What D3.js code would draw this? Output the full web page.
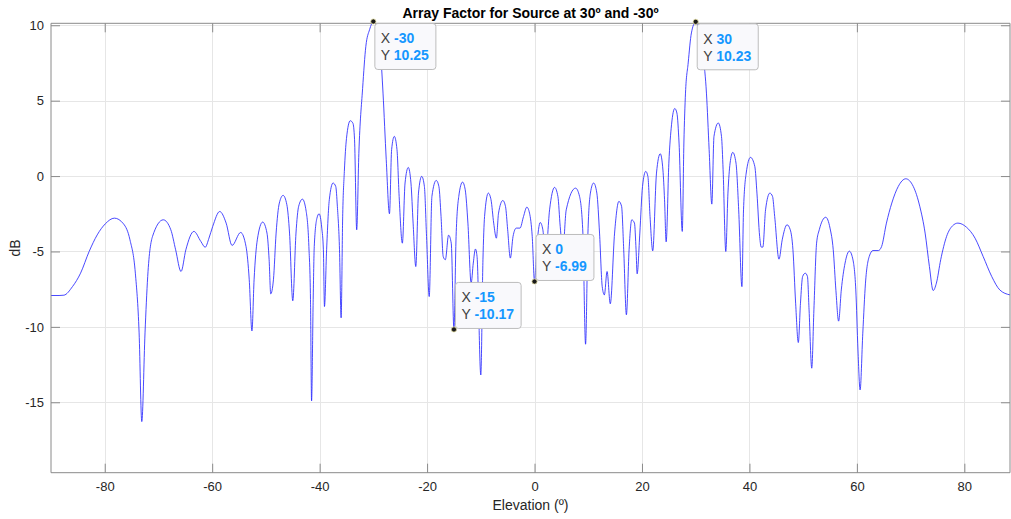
<!DOCTYPE html>
<html>
<head>
<meta charset="utf-8">
<script src="https://cdn.jsdelivr.net/npm/d3@7"></script>
<style>
  html, body { margin: 0; padding: 0; background: #ffffff; }
  svg { display: block; font-family: "Liberation Sans", Arial, Helvetica, sans-serif; }
</style>
</head>
<body>
<svg id="chart" width="1011" height="519"></svg>
<script>
// Array factor (dB) versus elevation angle (degrees)
const elevation = [
  -90, -88.5, -87.6, -86.0, -84.5, -82.9, -81.4, -79.9, -78.2, -76.5, -75.3, -74.3, -73.6, -73.1, -72.5,
  -72.0, -71.1, -69.1, -67.7, -66.8, -65.8, -64.9, -63.4, -62.1, -61.3, -60.6, -59.9, -58.6, -57.4, -56.3,
  -54.7, -53.7, -53.1, -52.6, -52.2, -51.6, -50.6, -49.8, -49.4, -49.1, -48.6, -48.1, -47.5, -46.8, -46.1,
  -45.6, -45.0, -44.4, -43.9, -43.2, -42.5, -42.0, -41.7, -41.5, -41.2, -41.0, -40.5, -40.1, -39.6, -39.3,
  -39.1, -38.7, -38.2, -37.5, -37.0, -36.7, -36.3, -36.0, -35.7, -35.4, -35.0, -34.3, -33.8, -33.5, -33.1,
  -32.7, -32.0, -31.4, -30.7, -30.0, -29.2, -28.7, -28.2, -27.6, -27.0, -26.6, -26.1, -25.6, -25.2, -24.6,
  -24.1, -23.5, -23.0, -22.6, -22.1, -21.6, -21.0, -20.5, -20.1, -19.6, -19.1, -18.3, -17.8, -17.4, -17.0,
  -16.6, -16.0, -15.5, -15.0, -14.6, -14.1, -13.4, -12.9, -12.4, -11.8, -11.4, -11.0, -10.7, -10.0, -9.6,
  -9.3, -8.6, -8.1, -7.6, -7.1, -6.7, -5.9, -5.4, -5.0, -4.5, -4.0, -3.4, -2.7, -2.05, -1.43,
  -0.93, -0.43, 0, 0.43, 1.06, 1.55, 2.05, 2.8, 3.73, 4.35, 4.78, 5.27, 5.9, 7.64, 8.38,
  9.0, 9.5, 9.94, 10.4, 11.0, 11.6, 12.1, 12.6, 13.0, 13.5, 14.1, 14.9, 15.7, 16.2, 16.6,
  17.1, 17.6, 18.1, 18.6, 18.9, 19.1, 19.6, 20.1, 20.7, 21.1, 21.5, 22.0, 22.7, 23.4, 23.9,
  24.2, 24.5, 25.0, 25.5, 26.1, 26.5, 26.9, 27.5, 27.8, 28.1, 28.6, 29.2, 30.0, 30.7, 31.4,
  32.0, 32.5, 33.0, 33.4, 34.2, 34.8, 35.1, 35.6, 36.0, 36.4, 36.9, 37.5, 38.0, 38.6, 38.9,
  39.4, 40.2, 41.0, 41.4, 41.9, 42.2, 42.5, 43.0, 43.8, 44.3, 44.7, 45.5, 46.1, 47.0, 47.6,
  48.1, 48.6, 49.1, 49.5, 49.9, 50.4, 50.8, 51.1, 51.6, 52.0, 52.5, 53.0, 54.2, 55.0, 55.6,
  56.1, 56.6, 57.1, 57.8, 58.6, 59.2, 59.8, 60.2, 60.6, 61.1, 61.6, 62.3, 63.0, 64.0, 64.6,
  65.5, 66.5, 67.7, 69.1, 70.5, 71.7, 72.7, 73.5, 74.2, 74.8, 75.6, 76.7, 77.8, 78.8, 80.4,
  82.0, 83.5, 85.1, 86.6, 88.5
];
const arrayFactorDb = [
  -7.92, -7.92, -7.9, -7.33, -6.44, -5.0, -3.9, -3.17, -2.79, -3.17, -4.23, -6.44, -10.4, -16.28, -10.4,
  -6.66, -4.0, -2.9, -3.56, -4.89, -6.33, -4.89, -3.67, -4.34, -4.72, -4.12, -3.34, -2.35, -3.12, -4.6,
  -3.74, -4.67, -6.88, -10.27, -6.88, -4.23, -3.05, -3.78, -5.55, -7.81, -6.88, -3.78, -1.79, -1.28, -1.9,
  -3.78, -8.27, -3.78, -2.0, -1.53, -2.35, -4.67, -8.2, -14.91, -8.2, -4.67, -2.79, -2.5, -3.45, -4.89,
  -8.65, -4.89, -1.57, -0.46, -0.69, -2.0, -4.89, -9.4, -2.5, 0.3, 2.5, 3.67, 3.5, 2.41, -3.56,
  1.5, 5.8, 8.6, 9.71, 10.25, 9.7, 8.38, 5.5, 1.08, -2.5, 1.75, 2.63, 1.75, -1.35, -4.45,
  -0.46, 0.57, -0.46, -3.12, -6.0, -1.13, -0.02, -0.69, -4.0, -7.99, -1.35, -0.29, -0.69, -2.68, -5.33,
  -5.55, -3.92, -4.45, -10.17, -4.0, -1.35, -0.4, -0.91, -3.12, -7.1, -5.77, -4.84, -5.33, -13.19, -5.55,
  -2.68, -1.13, -1.57, -3.12, -4.12, -2.46, -1.62, -2.02, -3.56, -5.44, -4.0, -3.45, -3.45, -2.68, -2.06,
  -2.46, -4.0, -6.99, -4.67, -3.08, -3.56, -5.33, -2.24, -0.75, -1.35, -3.34, -4.89, -2.24, -0.8, -1.35,
  -3.78, -11.15, -3.78, -1.13, -0.46, -1.13, -3.78, -7.33, -7.88, -6.33, -8.47, -3.78, -1.68, -2.0, -4.89,
  -9.2, -4.89, -2.9, -3.12, -4.89, -6.48, -3.78, -0.69, 0.31, -0.02, -2.68, -4.96, 0.2, 1.48, 0.4,
  -1.57, -4.36, 0.85, 3.4, 4.48, 4.18, 2.19, -3.67, 2.19, 5.5, 7.5, 9.49, 10.23, 9.49, 7.94,
  5.5, 1.75, -1.86, 2.63, 3.52, 2.63, 0.42, -5.0, -1.13, 0.86, 1.57, 0.86, -2.24, -7.33, -2.24,
  0.2, 1.24, 0.64, -1.13, -4.0, -4.71, -4.71, -2.24, -1.13, -1.35, -2.68, -5.51, -4.23, -3.23, -3.56,
  -4.89, -8.43, -11.04, -8.43, -6.66, -6.44, -6.66, -8.87, -12.74, -8.87, -4.45, -3.56, -2.73, -3.45, -4.89,
  -7.6, -9.62, -7.55, -5.77, -4.98, -5.44, -7.55, -11.53, -14.18, -10.42, -7.1, -5.33, -4.94, -4.94, -4.67,
  -3.12, -1.79, -0.69, -0.18, -0.69, -2.0, -3.78, -6.0, -7.59, -7.1, -5.55, -4.0, -3.3, -3.12, -3.39,
  -4.12, -5.33, -6.66, -7.55, -7.88
];

// Axis limits and ticks
const xLimits = [-90, 88.5];
const yLimits = [-19.67, 10.13];
const xTickValues = [-80, -60, -40, -20, 0, 20, 40, 60, 80];
const yTickValues = [-15, -10, -5, 0, 5, 10];

// Data tips
const tipX = [-30, 30, -15, 0];
const tipY = [10.25, 10.23, -10.17, -6.99];

const titleText = "Array Factor for Source at 30º and -30º";
const xLabelText = "Elevation (º)";
const yLabelText = "dB";

const svg = d3.select("#chart");
const W = 1011, H = 519;
const plot = { left: 51, right: 1010, top: 23.3, bottom: 472.7 };

const x = d3.scaleLinear().domain(xLimits).range([plot.left, plot.right]);
const y = d3.scaleLinear().domain(yLimits).range([plot.bottom, plot.top]);

svg.append("rect").attr("width", W).attr("height", H).attr("fill", "#ffffff");

// Grid
const grid = svg.append("g").attr("stroke", "#e6e6e6").attr("stroke-width", 1);
grid.selectAll("line.gx").data(xTickValues).join("line")
  .attr("x1", d => Math.round(x(d)) + 0.5).attr("x2", d => Math.round(x(d)) + 0.5)
  .attr("y1", plot.top).attr("y2", plot.bottom);
grid.selectAll("line.gy").data(yTickValues).join("line")
  .attr("y1", d => Math.round(y(d)) + 0.5).attr("y2", d => Math.round(y(d)) + 0.5)
  .attr("x1", plot.left).attr("x2", plot.right);

// Curve
const pts = elevation.map((e, i) => [e, arrayFactorDb[i]]);
const line = d3.line().x(d => x(d[0])).y(d => y(d[1])).curve(d3.curveMonotoneX);
svg.append("path").datum(pts)
  .attr("d", line)
  .attr("fill", "none")
  .attr("stroke", "#2828ff")
  .attr("stroke-width", 0.85)
  .attr("stroke-linejoin", "round");

// Axes (ticks pointing inward on all four sides)
const tickLen = 9;
const axisColor = "#8a8a8a";
const plainFormat = d => String(d);
const bottomAxis = d3.axisBottom(x).tickValues(xTickValues).tickSize(-tickLen).tickPadding(9).tickFormat(plainFormat);
const topAxis = d3.axisTop(x).tickValues(xTickValues).tickSize(-tickLen).tickFormat("");
const leftAxis = d3.axisLeft(y).tickValues(yTickValues).tickSize(-tickLen).tickPadding(7).tickFormat(plainFormat);
const rightAxis = d3.axisRight(y).tickValues(yTickValues).tickSize(-tickLen).tickFormat("");

function styleAxis(g) {
  g.select(".domain").attr("stroke", axisColor).attr("stroke-width", 1);
  g.selectAll(".tick line").attr("stroke", axisColor).attr("stroke-width", 1);
  g.selectAll(".tick text").attr("fill", "#262626").attr("font-size", 13)
    .attr("font-family", "'Liberation Sans', Arial, Helvetica, sans-serif");
}
svg.append("g").attr("transform", `translate(0,${plot.bottom})`).call(bottomAxis).call(styleAxis)
  .call(g => g.select(".domain").attr("d", `M${plot.left},0H${plot.right}`));
svg.append("g").attr("transform", `translate(0,${plot.top})`).call(topAxis).call(styleAxis)
  .call(g => g.select(".domain").attr("d", `M${plot.left},0H${plot.right}`));
svg.append("g").attr("transform", `translate(${plot.left},0)`).call(leftAxis).call(styleAxis)
  .call(g => g.select(".domain").attr("d", `M0,${plot.top}V${plot.bottom}`));
svg.append("g").attr("transform", `translate(${plot.right},0)`).call(rightAxis).call(styleAxis)
  .call(g => g.select(".domain").attr("d", `M0,${plot.top}V${plot.bottom}`));

// Title and axis labels
svg.append("text").attr("x", (plot.left + plot.right) / 2).attr("y", 17.5)
  .attr("text-anchor", "middle").attr("font-weight", "bold").attr("font-size", 14)
  .attr("fill", "#000").text(titleText);
svg.append("text").attr("x", (plot.left + plot.right) / 2).attr("y", 510)
  .attr("text-anchor", "middle").attr("font-size", 14).attr("fill", "#262626").text(xLabelText);
svg.append("text").attr("transform", `translate(20,${(plot.top + plot.bottom) / 2}) rotate(-90)`)
  .attr("text-anchor", "middle").attr("font-size", 14).attr("fill", "#262626").text(yLabelText);

// Data tips: box to the lower right for values above zero, upper right otherwise
tipX.forEach((tx, i) => {
  const ty = tipY[i];
  const px = x(tx), py = y(ty);
  const g = svg.append("g");
  const above = ty < 0;
  const boxH = 46;
  const bx = px + 1.5;
  const by = above ? py - boxH - 1 : py + 2;
  const rect = g.append("rect").attr("x", bx).attr("y", by).attr("height", boxH)
    .attr("rx", 3).attr("fill", "#f9f9fc")
    .attr("stroke", "#bdbdbd").attr("stroke-width", 1);
  const t1 = g.append("text").attr("x", bx + 6).attr("y", by + 20).attr("font-size", 14);
  t1.append("tspan").attr("fill", "#404040").text("X ");
  t1.append("tspan").attr("fill", "#1597ff").attr("font-weight", "bold").text(String(tx));
  const t2 = g.append("text").attr("x", bx + 6).attr("y", by + 37).attr("font-size", 14);
  t2.append("tspan").attr("fill", "#404040").text("Y ");
  t2.append("tspan").attr("fill", "#1597ff").attr("font-weight", "bold").text(ty.toFixed(2));
  const w = Math.max(t1.node().getComputedTextLength(), t2.node().getComputedTextLength());
  rect.attr("width", w + 13);
  svg.append("circle").attr("cx", px).attr("cy", py).attr("r", 2.6)
    .attr("fill", "#1a1a1a").attr("stroke", "#e9e2a8").attr("stroke-width", 0.8);
});
</script>
</body>
</html>
